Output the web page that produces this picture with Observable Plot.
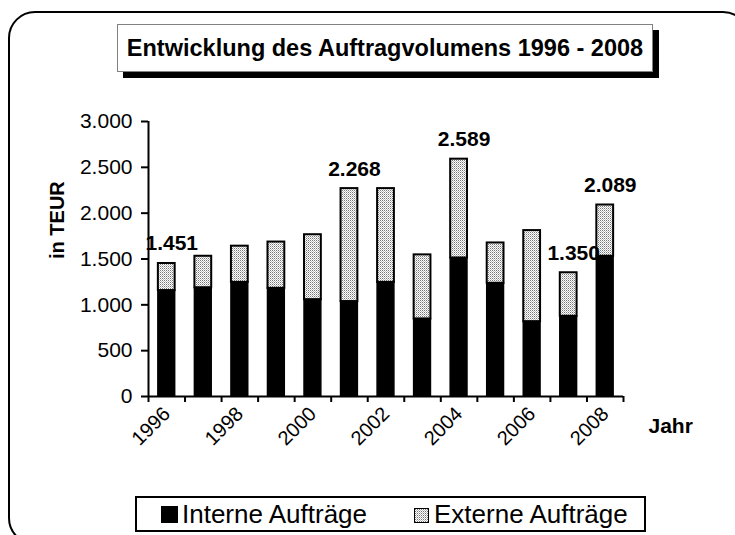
<!DOCTYPE html>
<html>
<head>
<meta charset="utf-8">
<script src="https://cdn.jsdelivr.net/npm/d3@7"></script>
<script src="https://cdn.jsdelivr.net/npm/@observablehq/plot@0.6"></script>
<style>
  html, body { margin: 0; padding: 0; background: #fff; }
  body { width: 735px; height: 535px; position: relative; overflow: hidden; font-family: "Liberation Sans", Arial, sans-serif; }
  #frame { position: absolute; left: 8px; top: 11px; width: 742px; height: 534px; border: 2.5px solid #000; border-radius: 27px; box-sizing: border-box; }
  #chart { position: absolute; left: 0; top: 0; }
  #title { position: absolute; left: 117px; top: 24px; width: 536px; height: 48px; box-sizing: border-box; border: 1px solid #808080; background: #fff; box-shadow: 6px 6px 0 #000; font-weight: bold; font-size: 23.5px; display: flex; align-items: center; justify-content: center; white-space: nowrap; }
  #legend { position: absolute; left: 135px; top: 496px; width: 511px; height: 36px; box-sizing: border-box; border: 2px solid #000; background: #fff; display: flex; align-items: center; font-size: 26px; line-height: 1; white-space: nowrap; }
  .item { display: flex; align-items: baseline; }
  .sw { display: inline-block; margin-right: 4px; box-sizing: border-box; }
</style>
</head>
<body>
<div id="frame"></div>
<div id="chart"></div>
<div id="title">Entwicklung des Auftragvolumens 1996 - 2008</div>
<div id="legend">
  <div class="item" style="margin-left:24px"><div class="sw" style="width:17px;height:17px;background:#000"></div>Interne Aufträge</div>
  <div class="item" style="margin-left:47px"><svg class="sw" width="15" height="15" style="border:1px solid #000;margin-right:5px"><defs><pattern id="stippleL" width="2" height="2" patternUnits="userSpaceOnUse"><rect width="2" height="2" fill="#fff"/><rect width="1" height="1" fill="#777"/><rect x="1" y="1" width="1" height="1" fill="#bbb"/></pattern></defs><rect width="15" height="15" fill="url(#stippleL)"/></svg>Externe Aufträge</div>
</div>
<script>
const years = [1996, 1997, 1998, 1999, 2000, 2001, 2002, 2003, 2004, 2005, 2006, 2007, 2008];
const intern = [1155, 1185, 1245, 1180, 1055, 1035, 1245, 845, 1510, 1235, 815, 875, 1530];
const extern = [296, 345, 395, 505, 710, 1233, 1023, 700, 1079, 440, 995, 475, 559];
const labelYears = [1996, 2001, 2004, 2007, 2008];
const xTickYears = [1996, 1998, 2000, 2002, 2004, 2006, 2008];
const yTicks = [0, 500, 1000, 1500, 2000, 2500, 3000];

const rows = years.map((year, i) => ({year, intern: intern[i], extern: extern[i], total: intern[i] + extern[i]}));
const fmt = d => d3.format(",")(d).replace(/,/g, ".");
const half = 0.23;
const x0 = years[0] - 0.5, x1 = years[years.length - 1] + 0.5;
const bounds = d3.range(years.length + 1).map(i => x0 + i);

const plot = Plot.plot({
  width: 735,
  height: 535,
  marginLeft: 148,
  marginRight: 112,
  marginTop: 121,
  marginBottom: 139,
  style: {fontFamily: "'Liberation Sans', Arial, sans-serif", background: "transparent", color: "#000"},
  x: {type: "linear", domain: [x0, x1]},
  y: {domain: [0, 3000]},
  marks: [
    Plot.rect(rows, {x1: d => d.year - half, x2: d => d.year + half, y1: d => d.intern, y2: d => d.total, fill: "url(#stipple)", stroke: "#000", strokeWidth: 2}),
    Plot.rect(rows, {x1: d => d.year - half, x2: d => d.year + half, y1: d => 0, y2: d => d.intern, fill: "#000", stroke: "#000", strokeWidth: 1.5}),
    Plot.ruleX([x0], {y1: 0, y2: 3000, strokeWidth: 2}),
    Plot.ruleY([0], {strokeWidth: 2}),
    Plot.axisY({ticks: yTicks, tickFormat: fmt, tickSize: 7, tickPadding: 9, fontSize: 21, label: null, strokeWidth: 2}),
    Plot.axisX({ticks: bounds, tickFormat: () => "", tickSize: 6, strokeWidth: 2, label: null}),
    Plot.axisX({ticks: xTickYears, tickFormat: d => String(d), tickSize: 0, tickPadding: 10, tickRotate: -45, fontSize: 20, dx: 0, dy: 4, label: null}),
    Plot.text(rows.filter(d => labelYears.includes(d.year)), {x: "year", y: "total", text: d => fmt(d.total), dy: -13, dx: 5, lineAnchor: "bottom", fontWeight: "bold", fontSize: 21}),
    Plot.text(["in TEUR"], {frameAnchor: "left", rotate: -90, dx: -91, fontWeight: "bold", fontSize: 20}),
    Plot.text(["Jahr"], {frameAnchor: "bottom-right", dx: 25, dy: 36, textAnchor: "start", fontWeight: "bold", fontSize: 21})
  ]
});

const defs = document.createElementNS("http://www.w3.org/2000/svg", "defs");
defs.innerHTML = '<pattern id="stipple" width="2" height="2" patternUnits="userSpaceOnUse"><rect width="2" height="2" fill="#fff"/><rect width="1" height="1" fill="#777"/><rect x="1" y="1" width="1" height="1" fill="#bbb"/></pattern>';
plot.insertBefore(defs, plot.firstChild);
document.getElementById("chart").appendChild(plot);
</script>
</body>
</html>
